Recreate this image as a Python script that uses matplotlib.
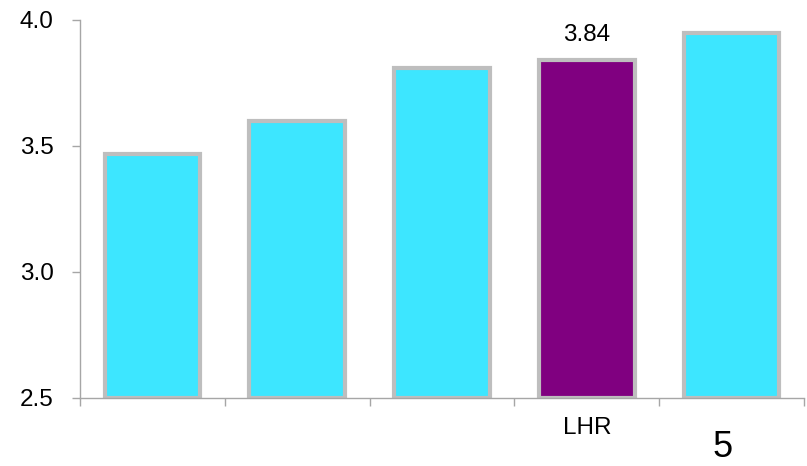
import matplotlib.pyplot as plt
from matplotlib.ticker import FixedLocator

plt.rcParams["font.family"] = ["Liberation Sans", "DejaVu Sans"]

# bar values
categories = ["", "", "", "LHR", ""]
values = [3.47, 3.60, 3.81, 3.84, 3.95]
colors = ["#3DE6FF", "#3DE6FF", "#3DE6FF", "#800080", "#3DE6FF"]
highlight = 3
side_label = "5"

fig = plt.figure(figsize=(8.07, 4.66), dpi=100)
ax = fig.add_axes([80 / 807, 68 / 466, 724 / 807, 378 / 466])

x = list(range(len(values)))
ax.bar(x, [v - 2.5 for v in values], bottom=2.5, width=0.66,
       color=colors, edgecolor="#BEBEBE", linewidth=3, zorder=2)

ax.set_xlim(-0.5, len(values) - 0.5)
ax.set_ylim(2.5, 4.0)
ax.set_yticks([2.5, 3.0, 3.5, 4.0])
ax.set_yticklabels(["2.5", "3.0", "3.5", "4.0"])

ax.set_xticks(x)
ax.set_xticklabels(categories)
ax.xaxis.set_minor_locator(FixedLocator([i - 0.5 for i in range(len(values) + 1)]))

ax.tick_params(axis="y", direction="out", length=6, width=1, color="#A6A6A6",
               labelsize=17.5, pad=13)
ax.tick_params(axis="x", which="major", length=0, labelsize=17.5, pad=14)
ax.tick_params(axis="x", which="minor", direction="out", length=6, width=1,
               color="#A6A6A6")

for side in ["top", "right"]:
    ax.spines[side].set_visible(False)
for side in ["left", "bottom"]:
    ax.spines[side].set_color("#A6A6A6")
    ax.spines[side].set_linewidth(1)

ax.annotate(f"{values[highlight]:.2f}", (highlight, values[highlight]),
            xytext=(0, 14), textcoords="offset points",
            ha="center", va="baseline", fontsize=17.5)

fig.text(722.5 / 807, 1 / 466, side_label, ha="center", va="bottom",
         fontsize=26)

fig.savefig("out.png", dpi=100)
